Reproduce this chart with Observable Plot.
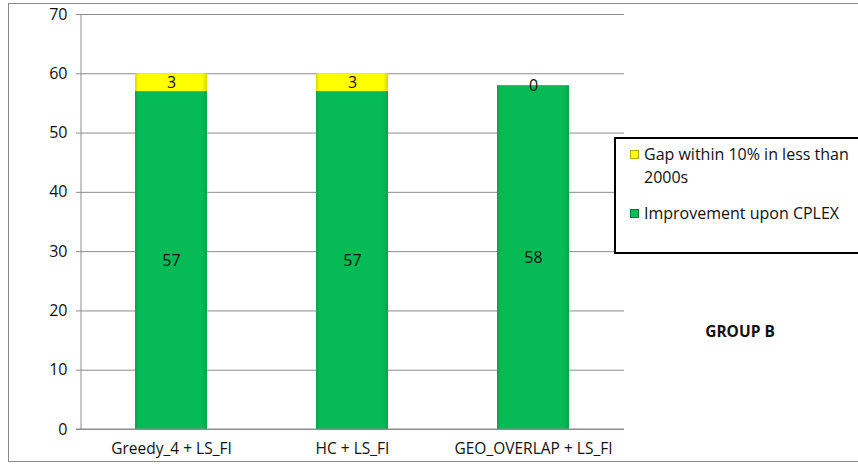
<!DOCTYPE html>
<html><head><meta charset="utf-8">
<script src="https://cdn.jsdelivr.net/npm/d3@7"></script>
<script src="https://cdn.jsdelivr.net/npm/@observablehq/plot@0.6"></script>
<style>
body{margin:0;background:#fff;font-family:"Open Sans",sans-serif}
#wrap{position:relative;width:858px;height:466px;overflow:hidden;background:#fff}
#border{position:absolute;left:8px;top:3px;width:870px;height:459px;border:1.5px solid #8a8a8a;box-sizing:border-box;pointer-events:none}
#legend{position:absolute;left:614px;top:137px;width:260px;height:117px;border:2px solid #000;box-sizing:border-box;background:#fff;font-size:16px;color:#111}
.item{position:absolute;left:14px;display:flex;align-items:flex-start}
.sw{width:9px;height:9px;margin-right:5px;margin-top:7px;box-sizing:border-box}
#group{position:absolute;left:680px;top:320px;width:120px;text-align:center;font-weight:bold;font-size:15.5px;color:#111}
</style></head><body>
<div id="wrap"><div id="chart"></div>
<div id="border"></div>
<div id="legend"></div>
<div id="group"></div>
</div>
<script>
const categories = ["Greedy_4 + LS_FI", "HC + LS_FI", "GEO_OVERLAP + LS_FI"];
const improvement = [57, 57, 58];
const gap = [3, 3, 0];
const series = ["Improvement upon CPLEX", "Gap within 10% in less than 2000s"];
const yTicks = [0, 10, 20, 30, 40, 50, 60, 70];
const groupTitle = "GROUP B";

const data = categories.flatMap((c, i) => [
  {cat: c, series: series[0], value: improvement[i]},
  {cat: c, series: series[1], value: gap[i]}
]);

const plot = Plot.plot({
  width: 858, height: 466,
  marginLeft: 81, marginRight: 234, marginTop: 14, marginBottom: 37,
  style: {fontFamily: "'Open Sans', sans-serif", color: "#111", background: "transparent"},
  x: {domain: categories, paddingInner: 0.6, paddingOuter: 0.3, label: null},
  y: {domain: [0, 70], label: null},
  color: {domain: series, range: ["url(#gGreen)", "url(#gYellow)"]},
  marks: [
    Plot.gridY(yTicks, {stroke: "#8c8c8c", strokeOpacity: 1, strokeWidth: 1}),
    Plot.axisY(yTicks, {tickSize: 5, tickPadding: 9, fontSize: 16, stroke: "#8c8c8c", label: null}),
    Plot.axisX({tickSize: 0, tickPadding: 13, fontSize: 15.5, label: null}),
    Plot.barY(data, Plot.stackY({x: "cat", y: "value", fill: "series", order: series})),
    Plot.text(data, Plot.stackY({x: "cat", y: "value", text: "value", z: "series", order: series, fontSize: 16, fill: "#111"}))
  ]
});
document.getElementById("chart").appendChild(plot);

// left axis line and zero line extension
const svg = d3.select(plot.tagName === "svg" ? plot : plot.querySelector("svg"));
const ys = plot.scale("y");
svg.append("line").attr("x1", 81).attr("x2", 81)
  .attr("y1", ys.apply(70)).attr("y2", ys.apply(0)).attr("stroke", "#8c8c8c");
svg.append("line").attr("x1", 76).attr("x2", 624)
  .attr("y1", ys.apply(0)).attr("y2", ys.apply(0)).attr("stroke", "#8c8c8c");

const defs = svg.insert("defs", ":first-child");
function grad(id, edge, mid) {
  const g = defs.append("linearGradient").attr("id", id).attr("x1", "0").attr("x2", "1").attr("y1", "0").attr("y2", "0");
  [[0, edge], [0.05, mid], [0.93, mid], [1, edge]].forEach(([o, c]) =>
    g.append("stop").attr("offset", o).attr("stop-color", c));
}
grad("gGreen", "#08a24b", "#06ba56");
grad("gYellow", "#d8d800", "#ffff00");

// legend
const legend = document.getElementById("legend");
const items = [
  {label: series[1], color: "#ffff00", edge: "#b0b000", top: 4},
  {label: series[0], color: "#06ba56", edge: "#067a38", top: 63}
];
items.forEach(it => {
  const d = document.createElement("div");
  d.className = "item";
  d.style.top = it.top + "px";
  d.innerHTML = `<div class="sw" style="background:${it.color};border:1px solid ${it.edge}"></div><div style="width:225px;line-height:23px">${it.label}</div>`;
  legend.appendChild(d);
});
document.getElementById("group").textContent = groupTitle;
</script>
</body></html>
